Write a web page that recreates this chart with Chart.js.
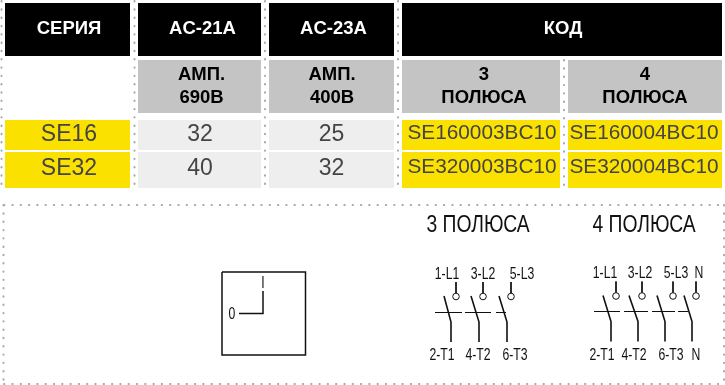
<!DOCTYPE html>
<html>
<head>
<meta charset="utf-8">
<style>
  html, body { margin: 0; padding: 0; background: #fff; }
  #wrap { width: 725px; height: 385px; }
</style>
<script src="https://cdn.jsdelivr.net/npm/chart.js@4"></script>
</head>
<body>
<div id="wrap"><canvas id="tableChart" width="725" height="385"></canvas></div>
<script>
// table content
const headers = ['СЕРИЯ', 'AC-21A', 'AC-23A', 'КОД'];
const subHeaders = [null, ['АМП.', '690В'], ['АМП.', '400В'], ['3', 'ПОЛЮСА'], ['4', 'ПОЛЮСА']];
const series = ['SE16', 'SE32'];
const ac21 = [32, 40];
const ac23 = [25, 32];
const code3 = ['SE160003BC10', 'SE320003BC10'];
const code4 = ['SE160004BC10', 'SE320004BC10'];
const poleTitles = ['3 ПОЛЮСА', '4 ПОЛЮСА'];
const topLabels3 = ['1-L1', '3-L2', '5-L3'];
const bottomLabels3 = ['2-T1', '4-T2', '6-T3'];
const topLabels4 = ['1-L1', '3-L2', '5-L3', 'N'];
const bottomLabels4 = ['2-T1', '4-T2', '6-T3', 'N'];

// layout of the sheet, the scales run in sheet units
const colLeft = [5, 138, 269, 402, 568];
const colRight = [130, 261, 394, 560, 722];
const rowTop = [3, 60, 120, 152];
const rowBottom = [56, 113, 150, 188];
const BLACK = '#000000', GREY = '#c4c4c4', LIGHT = '#eeeeee', YELLOW = '#fbe100', INK = '#444444';

const datasets = [];

function addCell(x0, x1, y0, y1, color) {
    datasets.push({
        data: [{x: x0, y: y0}, {x: x1, y: y0}, {x: x1, y: y1}, {x: x0, y: y1}],
        backgroundColor: color, borderWidth: 0, fill: 'shape', pointRadius: 0, showLine: true, tension: 0
    });
}
function addLine(points, width, color) {
    datasets.push({
        data: points.map(p => ({x: p[0], y: p[1]})),
        borderColor: color || '#111111', borderWidth: width || 1.5, pointRadius: 0, showLine: true,
        fill: false, tension: 0
    });
}
function addDots(x0, y0, x1, y1) {
    datasets.push({
        data: [{x: x0, y: y0}, {x: x1, y: y1}],
        borderColor: '#a8a8a8', borderWidth: 2, borderDash: [0.4, 7.9], borderCapStyle: 'round',
        pointRadius: 0, showLine: true, fill: false
    });
}

// header row, КОД spans the last two columns
addCell(colLeft[0], colRight[0], rowTop[0], rowBottom[0], BLACK);
addCell(colLeft[1], colRight[1], rowTop[0], rowBottom[0], BLACK);
addCell(colLeft[2], colRight[2], rowTop[0], rowBottom[0], BLACK);
addCell(colLeft[3], colRight[4], rowTop[0], rowBottom[0], BLACK);
for (let c = 1; c < 5; c++) addCell(colLeft[c], colRight[c], rowTop[1], rowBottom[1], GREY);
for (let r = 2; r < 4; r++) {
    addCell(colLeft[0], colRight[0], rowTop[r], rowBottom[r], YELLOW);
    addCell(colLeft[1], colRight[1], rowTop[r], rowBottom[r], LIGHT);
    addCell(colLeft[2], colRight[2], rowTop[r], rowBottom[r], LIGHT);
    addCell(colLeft[3], colRight[3], rowTop[r], rowBottom[r], YELLOW);
    addCell(colLeft[4], colRight[4], rowTop[r], rowBottom[r], YELLOW);
}

// dotted separators
addDots(1.5, 1, 1.5, 189);
addDots(134.5, 1, 134.5, 189);
addDots(265, 1, 265, 189);
addDots(398, 1, 398, 189);
addDots(564, 60, 564, 189);
addDots(4, 205, 725, 205);
addDots(3.5, 205, 3.5, 385);
addDots(4, 384, 725, 384);
addDots(724, 205, 724, 385);

// switch symbol
addLine([[222, 272], [305.5, 272], [305.5, 355], [222, 355], [222, 272]], 1.5);
addLine([[263, 291], [263, 313.5], [239, 313.5]], 1.5);

// pole diagrams: stub x, blade top x, blade bottom x, dash from, dash to
const poles3 = [[456, 444, 451, 435, 462], [483, 471, 479, 465, 491], [511, 499, 507, 496, 506]];
const poles4 = [[616, 603, 611, 594, 620], [642, 629, 638, 624, 648], [673, 657, 665, 652, 675], [696, 684, 692, 678, 688]];
const contacts = [];
function addPoles(poles, yTop, yDash) {
    poles.forEach(p => {
        addLine([[p[0], yTop], [p[0], yTop + 11]], 1);
        addLine([[p[1], yTop + 14], [p[2], yTop + 40], [p[2], yTop + 60]], 1.6);
        addLine([[p[3], yDash], [p[4], yDash]], 1);
        contacts.push({x: p[0], y: yTop + 14.5});
    });
}
addPoles(poles3, 282, 312.5);
addPoles(poles4, 281.5, 311.5);
datasets.push({
    data: contacts, showLine: false, pointRadius: 3.3, pointStyle: 'circle',
    pointBackgroundColor: '#ffffff', pointBorderColor: '#111111', pointBorderWidth: 1
});

// text is put through the same scales as the marks
const HELV = '"Liberation Sans", sans-serif';
const BOLD = 'bold 18.5px ' + HELV;
const BIG = '23px ' + HELV, CODE = '20.8px ' + HELV, SMALL = '16.5px ' + HELV;
const textItems = [];
function addText(text, x, y, font, color, squeeze) { textItems.push({text, x, y, font, color, squeeze: squeeze || 1}); }

const headerX = [69, 202.5, 333.5, 563];
headers.forEach((h, i) => addText(h, headerX[i], 28.5, BOLD, '#ffffff'));
const subX = [null, 201.5, 332, 484, 645];
subHeaders.forEach((lines, c) => {
    if (!lines) return;
    addText(lines[0], subX[c], 75, BOLD, BLACK);
    addText(lines[1], subX[c], 98, BOLD, BLACK);
});
const rowMid = [134.5, 168.5];
series.forEach((s, i) => {
    addText(s, 69, rowMid[i], BIG, INK);
    addText(String(ac21[i]), 200, rowMid[i], BIG, INK);
    addText(String(ac23[i]), 331.5, rowMid[i], BIG, INK);
    addText(code3[i], 482, rowMid[i] - 1, CODE, INK);
    addText(code4[i], 644, rowMid[i] - 1, CODE, INK);
});
addText(poleTitles[0], 478, 225.5, BIG, '#111111', 0.84);
addText(poleTitles[1], 644, 225.5, BIG, '#111111', 0.84);
const top3X = [447, 483, 522], bottom3X = [442, 478, 515];
const top4X = [605, 640, 676, 699], bottom4X = [602, 634, 671, 696];
topLabels3.forEach((t, i) => addText(t, top3X[i], 274, SMALL, '#111111', 0.74));
bottomLabels3.forEach((t, i) => addText(t, bottom3X[i], 355, SMALL, '#111111', 0.74));
topLabels4.forEach((t, i) => addText(t, top4X[i], 273, SMALL, '#111111', 0.74));
bottomLabels4.forEach((t, i) => addText(t, bottom4X[i], 355, SMALL, '#111111', 0.74));
addText('I', 263, 283, SMALL, '#111111', 0.74);
addText('0', 232, 314, SMALL, '#111111', 0.74);

const sheetText = {
    id: 'sheetText',
    afterDatasetsDraw(chart) {
        const ctx = chart.ctx;
        const sx = chart.scales.x, sy = chart.scales.y;
        ctx.textAlign = 'center';
        ctx.textBaseline = 'middle';
        textItems.forEach(t => {
            ctx.save();
            ctx.font = t.font;
            ctx.fillStyle = t.color;
            ctx.translate(sx.getPixelForValue(t.x), sy.getPixelForValue(t.y));
            ctx.scale(t.squeeze, 1);
            ctx.fillText(t.text, 0, 0);
            ctx.restore();
        });
    }
};

new Chart(document.getElementById('tableChart'), {
    type: 'scatter',
    data: { datasets },
    plugins: [sheetText],
    options: {
        responsive: false,
        animation: false,
        layout: { padding: 0, autoPadding: false },
        plugins: { legend: { display: false }, tooltip: { enabled: false } },
        scales: {
            x: { type: 'linear', min: 0, max: 725, display: false },
            y: { type: 'linear', min: 0, max: 385, reverse: true, display: false }
        }
    }
});
</script>
</body>
</html>
